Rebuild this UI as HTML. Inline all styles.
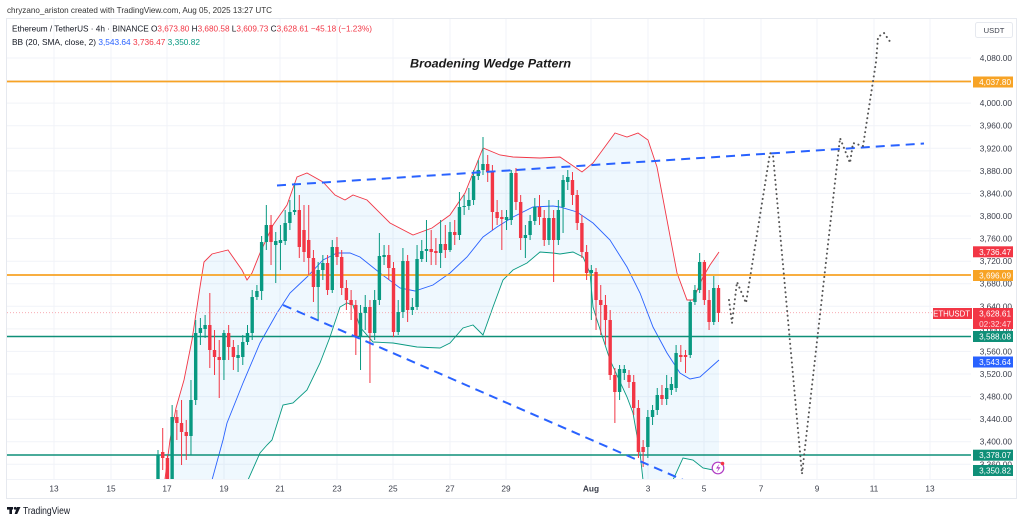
<!DOCTYPE html>
<html><head><meta charset="utf-8"><style>
html,body{margin:0;padding:0;background:#fff;}
svg{display:block;font-family:"Liberation Sans",Arial,sans-serif;}
</style></head><body>
<svg width="1024" height="522" viewBox="0 0 1024 522" xmlns="http://www.w3.org/2000/svg">
<defs><clipPath id="pane"><rect x="7" y="19" width="964" height="460"/></clipPath></defs>
<rect width="1024" height="522" fill="#fff"/>
<text x="7" y="13" font-size="8.4" fill="#333" textLength="265" lengthAdjust="spacingAndGlyphs">chryzano_ariston created with TradingView.com, Aug 05, 2025 13:27 UTC</text>
<rect x="6.5" y="18.5" width="1010" height="480" fill="#fff" stroke="#e6e9ef"/>
<g stroke="#f1f3f8" stroke-width="1">
<line x1="54" x2="54" y1="19" y2="479"/><line x1="111" x2="111" y1="19" y2="479"/><line x1="167" x2="167" y1="19" y2="479"/><line x1="224" x2="224" y1="19" y2="479"/><line x1="280" x2="280" y1="19" y2="479"/><line x1="337" x2="337" y1="19" y2="479"/><line x1="393" x2="393" y1="19" y2="479"/><line x1="450" x2="450" y1="19" y2="479"/><line x1="506" x2="506" y1="19" y2="479"/><line x1="591" x2="591" y1="19" y2="479"/><line x1="648" x2="648" y1="19" y2="479"/><line x1="704" x2="704" y1="19" y2="479"/><line x1="761" x2="761" y1="19" y2="479"/><line x1="817" x2="817" y1="19" y2="479"/><line x1="874" x2="874" y1="19" y2="479"/><line x1="930" x2="930" y1="19" y2="479"/>
<line x1="7" x2="971" y1="58" y2="58"/><line x1="7" x2="971" y1="80.6" y2="80.6"/><line x1="7" x2="971" y1="103.1" y2="103.1"/><line x1="7" x2="971" y1="125.7" y2="125.7"/><line x1="7" x2="971" y1="148.3" y2="148.3"/><line x1="7" x2="971" y1="170.9" y2="170.9"/><line x1="7" x2="971" y1="193.4" y2="193.4"/><line x1="7" x2="971" y1="216" y2="216"/><line x1="7" x2="971" y1="238.6" y2="238.6"/><line x1="7" x2="971" y1="261.2" y2="261.2"/><line x1="7" x2="971" y1="283.7" y2="283.7"/><line x1="7" x2="971" y1="306.3" y2="306.3"/><line x1="7" x2="971" y1="328.9" y2="328.9"/><line x1="7" x2="971" y1="351.4" y2="351.4"/><line x1="7" x2="971" y1="374" y2="374"/><line x1="7" x2="971" y1="396.6" y2="396.6"/><line x1="7" x2="971" y1="419.2" y2="419.2"/><line x1="7" x2="971" y1="441.7" y2="441.7"/><line x1="7" x2="971" y1="464.3" y2="464.3"/>
<line x1="7" x2="1016" y1="479.5" y2="479.5"/>
</g>
<g clip-path="url(#pane)">
<polygon fill="rgba(33,150,243,0.07)" points="165,479 170,440 176,408 184,380 192,340 200,287 204,262 212,254 228,250 242,270 247,280 252,273 260,253 273,225 287,205 297,177 307,173 323,182 335,195 345,200 353,195 367,200 390,223 413,235 432,228 450,215 465,193 477,163 483,148 500,155 513,157 540,158 560,157 582,172 593,163 615,133 627,137 638,133 648,140 657,167 667,220 677,273 687,300 693,300 703,277 710,265 719,252 719,468 713,470 703,468 693,460 683,458 673,480 643,480 640,453 633,413 627,397 610,360 597,320 593,307 590,273 583,257 573,252 560,254 553,253 540,252 527,263 513,270 503,280 493,307 483,335 473,325 463,328 450,343 440,348 417,347 393,343 373,342 360,327 353,305 347,303 340,307 330,337 320,363 307,390 293,403 283,405 272,440 267,445 260,453 248,480 165,480"/>
<polyline fill="none" stroke="#f23645" stroke-width="0.9" points="165,479 170,440 176,408 184,380 192,340 200,287 204,262 212,254 228,250 242,270 247,280 252,273 260,253 273,225 287,205 297,177 307,173 323,182 335,195 345,200 353,195 367,200 390,223 413,235 432,228 450,215 465,193 477,163 483,148 500,155 513,157 540,158 560,157 582,172 593,163 615,133 627,137 638,133 648,140 657,167 667,220 677,273 687,300 693,300 703,277 710,265 719,252"/>
<polyline fill="none" stroke="#2962ff" stroke-width="0.9" points="212,480 223,440 227,423 243,383 260,343 277,313 290,293 307,277 323,260 337,253 350,253 360,257 380,273 400,288 415,291 433,285 450,273 467,257 483,237 497,227 513,217 533,207 553,206 560,207 577,212 593,223 610,240 627,267 640,293 653,327 667,353 680,373 690,379 700,377 710,368 719,360"/>
<polyline fill="none" stroke="#089981" stroke-width="0.9" points="248,480 260,453 267,445 272,440 283,405 293,403 307,390 320,363 330,337 340,307 347,303 353,305 360,327 373,342 393,343 417,347 440,348 450,343 463,328 473,325 483,335 493,307 503,280 513,270 527,263 540,252 553,253 560,254 573,252 583,257 590,273 593,307 597,320 610,360 627,397 633,413 640,453 643,480"/>
<polyline fill="none" stroke="#089981" stroke-width="0.9" points="673,480 683,458 693,460 703,468 713,470 719,468"/>
<line x1="7" x2="971" y1="312.7" y2="312.7" stroke="#f7a1a8" stroke-width="0.8" stroke-dasharray="1 2"/>
<line x1="7" x2="973" y1="81.5" y2="81.5" stroke="#f7a325" stroke-width="1.8"/>
<line x1="7" x2="973" y1="275" y2="275" stroke="#f7a325" stroke-width="1.8"/>
<line x1="7" x2="973" y1="336.5" y2="336.5" stroke="#0f8f78" stroke-width="1.6"/>
<line x1="7" x2="973" y1="455" y2="455" stroke="#0f8f78" stroke-width="1.6"/>
<g id="candles"></g>
<line x1="277" y1="185.5" x2="924" y2="143.5" stroke="#2962ff" stroke-width="2" stroke-dasharray="9 6"/>
<line x1="283" y1="305" x2="690" y2="483" stroke="#2962ff" stroke-width="2" stroke-dasharray="9 6"/>
<polyline fill="none" stroke="#555" stroke-width="2" stroke-linecap="round" stroke-dasharray="0.1 4.6" points="729,300 732,323 737,282 746,303 770,153 773,155 802,474 840,138 850,163 853,143 863,146 876,62 878,37 884,33 891,43"/>
<circle cx="718" cy="468" r="5.8" fill="#fff" stroke="#b03cc4" stroke-width="1.2"/>
<path d="M719.5,463.5 L716,468.5 L718.5,468.5 L716.8,472.5 L720.5,467.3 L718,467.3 Z" fill="#b03cc4"/>
<circle cx="722.5" cy="463.5" r="1.8" fill="#f23645"/>
</g>
<text x="410" y="67.5" font-size="12" font-weight="bold" font-style="italic" fill="#1a1a1a" textLength="161" lengthAdjust="spacingAndGlyphs">Broadening Wedge Pattern</text>
<text x="12" y="31.5" font-size="8.4" fill="#131722" textLength="360" lengthAdjust="spacingAndGlyphs">Ethereum / TetherUS · 4h · BINANCE  O<tspan fill="#f23645">3,673.80</tspan> H<tspan fill="#f23645">3,680.58</tspan> L<tspan fill="#f23645">3,609.73</tspan> C<tspan fill="#f23645">3,628.61</tspan> <tspan fill="#f23645">−45.18 (−1.23%)</tspan></text>
<text x="12" y="45" font-size="8.4" fill="#131722" textLength="188" lengthAdjust="spacingAndGlyphs">BB (20, SMA, close, 2) <tspan fill="#2962ff">3,543.64</tspan> <tspan fill="#f23645">3,736.47</tspan> <tspan fill="#089981">3,350.82</tspan></text>
<g font-size="8.3" fill="#3a3e4a" text-anchor="end">
<text x="1012" y="61">4,080.00</text><text x="1012" y="106.1">4,000.00</text><text x="1012" y="128.7">3,960.00</text><text x="1012" y="151.3">3,920.00</text><text x="1012" y="173.9">3,880.00</text><text x="1012" y="196.4">3,840.00</text><text x="1012" y="219">3,800.00</text><text x="1012" y="241.6">3,760.00</text><text x="1012" y="264.2">3,720.00</text><text x="1012" y="286.7">3,680.00</text><text x="1012" y="309.3">3,640.00</text><text x="1012" y="331.9">3,600.00</text><text x="1012" y="354.4">3,560.00</text><text x="1012" y="377">3,520.00</text><text x="1012" y="399.6">3,480.00</text><text x="1012" y="422.2">3,440.00</text><text x="1012" y="444.7">3,400.00</text><text x="1012" y="467.3">3,360.00</text>
</g>
<rect x="975.5" y="22.5" width="37" height="15" rx="2" fill="#fff" stroke="#e6e9ef"/>
<text x="994" y="33" font-size="7.6" fill="#3a3e4a" text-anchor="middle">USDT</text>
<g font-size="8.2" fill="#fff" text-anchor="end">
<rect x="973" y="76.5" width="40" height="11" fill="#f7a325"/><text x="1011" y="85">4,037.80</text>
<rect x="973" y="246.3" width="40" height="11" fill="#f23645"/><text x="1011" y="254.8">3,736.47</text>
<rect x="973" y="270" width="40" height="11" fill="#f7a325"/><text x="1011" y="278.5">3,696.09</text>
<rect x="933" y="308" width="39" height="11" fill="#f23645"/><text x="970" y="316.5" font-size="7.8">ETHUSDT</text>
<rect x="973" y="308" width="40" height="21" fill="#f23645"/><text x="1011" y="316.5">3,628.61</text><text x="1011" y="327" fill="#ffd6da">02:32:47</text>
<rect x="973" y="331" width="40" height="11" fill="#0f8f78"/><text x="1011" y="339.5">3,588.08</text>
<rect x="973" y="356.5" width="40" height="11" fill="#2962ff"/><text x="1011" y="365">3,543.64</text>
<rect x="973" y="449.7" width="40" height="11" fill="#0f8f78"/><text x="1011" y="458.2">3,378.07</text>
<rect x="973" y="465" width="40" height="11" fill="#0f8f78"/><text x="1011" y="473.5">3,350.82</text>
</g>
<g font-size="8.3" fill="#3a3e4a" text-anchor="middle">
<text x="54" y="491.5">13</text><text x="111" y="491.5">15</text><text x="167" y="491.5">17</text><text x="224" y="491.5">19</text><text x="280" y="491.5">21</text><text x="337" y="491.5">23</text><text x="393" y="491.5">25</text><text x="450" y="491.5">27</text><text x="506" y="491.5">29</text><text x="591" y="491.5" font-weight="bold">Aug</text><text x="648" y="491.5">3</text><text x="704" y="491.5">5</text><text x="761" y="491.5">7</text><text x="817" y="491.5">9</text><text x="874" y="491.5">11</text><text x="930" y="491.5">13</text>
</g>
<g fill="#131722">
<rect x="7" y="507" width="6" height="2.6"/><rect x="9.4" y="507" width="2.6" height="7"/>
<circle cx="15.2" cy="508.3" r="1.4"/>
<path d="M17,507 L20.5,507 L17.2,514 L14.6,514 Z"/>
</g>
<text x="23" y="514" font-size="9.8" fill="#131722" textLength="47" lengthAdjust="spacingAndGlyphs">TradingView</text>
</svg>
<script>
var C=[[480,455,450,485],[452,458,428,470],[458,482,455,485],[482,417,405,485],[417,423,410,440],[423,432,400,465],[432,436,420,460],[436,400,380,455],[400,333,320,405],[333,328,318,345],
[329,325,315,338],[325,350,293,368],[350,357,330,375],[357,360,340,398],[360,333,330,380],[333,347,325,360],[347,357,340,370],[358,355,345,372],[357,342,335,365],[342,333,325,345],
[333,297,290,340],[297,291,285,300],[291,242,236,300],[242,225,205,250],[225,242,215,265],[245,241,232,283],[243,240,225,270],[241,223,210,245],[223,212,200,230],[212,210,183,215],
[210,247,195,258],[230,252,205,262],[240,258,205,275],[258,287,250,302],[287,270,262,320],[270,263,255,280],[263,290,255,295],[290,247,240,293],[247,257,237,265],[257,288,250,295],
[288,300,280,310],[300,305,290,320],[305,337,300,355],[337,313,305,370],[313,307,295,330],[307,333,300,383],[333,300,290,340],[300,256,233,305],[257,255,245,265],[255,268,245,280],
[268,332,262,337],[332,312,300,335],[312,261,248,318],[261,310,255,322],[310,307,298,315],[307,259,245,310],[259,251,240,262],[251,249,220,262],[249,252,230,265],[251,253,238,265],
[253,244,220,268],[244,250,225,258],[250,232,222,252],[232,235,220,245],[235,207,192,240],[207,206,195,215],[206,200,188,210],[200,176,170,205],[176,170,160,180],[170,164,137,175],
[164,172,155,182],[172,212,165,230],[212,218,200,225],[217,219,210,250],[220,217,210,230],[220,173,170,225],[173,202,168,210],[202,238,195,250],[238,235,225,258],[235,221,215,240],
[221,207,198,225],[207,217,195,225],[218,240,210,246],[240,218,200,245],[218,240,210,282],[240,210,200,245],[207,180,175,233],[182,177,170,190],[180,195,172,205],[195,223,190,230],
[223,252,215,258],[252,273,245,280],[273,270,265,320],[272,300,268,330],[300,305,285,335],[305,320,295,345],[320,375,310,380],[375,392,368,423],[392,369,365,400],[373,369,365,380],
[375,382,370,388],[382,408,375,415],[408,452,400,458],[447,452,440,467],[447,417,410,458],[417,410,405,425],[410,395,388,415],[395,399,385,405],[399,388,375,405],[390,384,377,395],
[388,353,345,392],[355,357,345,362],[355,357,350,373],[355,302,300,358],[302,290,285,305],[290,262,253,293],[262,300,260,305],[300,322,290,330],[322,288,276,325],[288,313,285,322]];
var s='';
for(var i=0;i<C.length;i++){var d=C[i],x=158+4.71*i,o=d[0],c=d[1],h=d[2],l=d[3];var col=c<o?'#089981':'#f23645';
s+='<line x1="'+x+'" x2="'+x+'" y1="'+h+'" y2="'+l+'" stroke="'+col+'" stroke-width="1"/>';
s+='<rect x="'+(x-1.7)+'" y="'+Math.min(o,c)+'" width="3.4" height="'+Math.max(1,Math.abs(o-c))+'" fill="'+col+'"/>';}
document.getElementById('candles').innerHTML=s;
</script>
</body></html>
